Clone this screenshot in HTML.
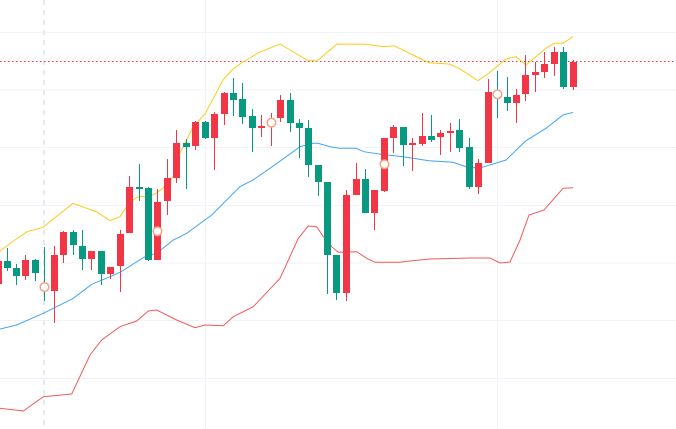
<!DOCTYPE html>
<html><head><meta charset="utf-8"><style>html,body{margin:0;padding:0;background:#fff;}svg{display:block;}</style></head>
<body>
<svg width="676" height="429" viewBox="0 0 676 429" xmlns="http://www.w3.org/2000/svg">
<g stroke="#F0F3FA" stroke-width="1">
<line x1="0" y1="32.5" x2="676" y2="32.5"/><line x1="0" y1="90" x2="676" y2="90"/><line x1="0" y1="147.5" x2="676" y2="147.5"/><line x1="0" y1="205.5" x2="676" y2="205.5"/><line x1="0" y1="263" x2="676" y2="263"/><line x1="0" y1="320.5" x2="676" y2="320.5"/><line x1="0" y1="378.5" x2="676" y2="378.5"/>
<line x1="205.5" y1="0" x2="205.5" y2="429"/><line x1="497.5" y1="0" x2="497.5" y2="429"/>
</g>
<line x1="44" y1="0" x2="44" y2="429" stroke="#E6E8EE" stroke-width="2" stroke-dasharray="5,5"/>
<line x1="0" y1="61.5" x2="676" y2="61.5" stroke="#F23645" stroke-width="1" stroke-dasharray="1.5,2.5"/>
<polyline fill="none" stroke="#FCCB1A" stroke-width="1" points="0,251 15,240 27,231.7 43,227.3 73,203.3 97,212 110,220.7 120,216.7 129,203 139,196 148,197.3 157,192.7 167,185 176,173 180,153 193,127 205,114 223,80 233,69 243,62 260,52 280,44 307,60 317,61 337,44 366,44.3 384,46.7 394,45.7 413,55 429,62.7 449,64 459,68.3 478,80.7 489,73 506,59 516,56.7 526,65 546,48.3 554,43.3 563,43.3 573,36.7"/>
<polyline fill="none" stroke="#42A5F5" stroke-width="1" points="0,329 16.7,325 43.3,313.3 53.3,308.3 73.3,298.3 91.7,284.3 110,276.7 120,272.3 145,256.7 156.7,253.3 173.3,240 186.7,233.3 211.7,215 240,186.7 253,180 270,168.3 300,146.7 313,143.3 318,143.3 330,146.7 340,148.3 356,148.3 364,151.7 379,154 403,156.7 429,160.7 453,162.3 466,166.7 479,168.3 506,160 526,140.7 546,128.3 563,115 573,112.3"/>
<polyline fill="none" stroke="#F25A5A" stroke-width="1" points="0,408.3 23.3,411 43.3,396.7 71.7,394 90,355 101.7,340 120,326.7 136.7,321 148.3,311 156.7,310 176.7,320 195,327.7 205,325 223.3,325.7 233.3,316.7 253.3,306.7 280,278.3 298.3,238.3 308.3,226 316.7,226.7 323.3,236.7 331.7,246.7 338.3,252.3 356.7,251.7 366.7,258.3 375,262.3 400,262.3 410,261 430,259 470,258 490,258 500,263 510,262 520,240 529,215 544,210 563,188.3 573,187.7"/>
<g shape-rendering="crispEdges">
<g fill="#F23645">
<rect x="-2" y="258" width="1" height="28"/><rect x="-5" y="261" width="7" height="23"/>
<rect x="25" y="255" width="1" height="25"/><rect x="22" y="260" width="7" height="16"/>
<rect x="54" y="246" width="1" height="77"/><rect x="51" y="255" width="7" height="36"/>
<rect x="63" y="231" width="1" height="32"/><rect x="60" y="232" width="7" height="23"/>
<rect x="91" y="251" width="1" height="19"/><rect x="88" y="251" width="7" height="8"/>
<rect x="110" y="267" width="1" height="12"/><rect x="107" y="267" width="7" height="7"/>
<rect x="120" y="230" width="1" height="62"/><rect x="117" y="234" width="7" height="32"/>
<rect x="129" y="176" width="1" height="57"/><rect x="126" y="187" width="7" height="46"/>
<rect x="157" y="189" width="1" height="71"/><rect x="154" y="202" width="7" height="58"/>
<rect x="167" y="159" width="1" height="56"/><rect x="164" y="178" width="7" height="23"/>
<rect x="176" y="130" width="1" height="53"/><rect x="173" y="143" width="7" height="35"/>
<rect x="195" y="121" width="1" height="29"/><rect x="192" y="122" width="7" height="24"/>
<rect x="214" y="112" width="1" height="58"/><rect x="211" y="114" width="7" height="24"/>
<rect x="224" y="92" width="1" height="33"/><rect x="221" y="93" width="7" height="21"/>
<rect x="261" y="115" width="1" height="22"/><rect x="258" y="126" width="7" height="2"/>
<rect x="271" y="113" width="1" height="33"/><rect x="268" y="121" width="7" height="2"/>
<rect x="280" y="95" width="1" height="27"/><rect x="277" y="100" width="7" height="18"/>
<rect x="346" y="190" width="1" height="111"/><rect x="343" y="195" width="7" height="98"/>
<rect x="356" y="163" width="1" height="32"/><rect x="353" y="179" width="7" height="16"/>
<rect x="374" y="190" width="1" height="40"/><rect x="371" y="190" width="7" height="23"/>
<rect x="384" y="138" width="1" height="54"/><rect x="381" y="138" width="7" height="53"/>
<rect x="393" y="125" width="1" height="28"/><rect x="390" y="127" width="7" height="11"/>
<rect x="412" y="138" width="1" height="33"/><rect x="409" y="143" width="7" height="2"/>
<rect x="422" y="113" width="1" height="33"/><rect x="419" y="136" width="7" height="8"/>
<rect x="440" y="130" width="1" height="25"/><rect x="437" y="133" width="7" height="4"/>
<rect x="450" y="123" width="1" height="29"/><rect x="447" y="131" width="7" height="2"/>
<rect x="478" y="159" width="1" height="35"/><rect x="475" y="163" width="7" height="24"/>
<rect x="488" y="79" width="1" height="84"/><rect x="485" y="92" width="7" height="71"/>
<rect x="516" y="89" width="1" height="34"/><rect x="513" y="95" width="7" height="8"/>
<rect x="525" y="55" width="1" height="46"/><rect x="522" y="75" width="7" height="19"/>
<rect x="535" y="62" width="1" height="30"/><rect x="532" y="72" width="7" height="3"/>
<rect x="544" y="52" width="1" height="26"/><rect x="541" y="64" width="7" height="8"/>
<rect x="554" y="47" width="1" height="29"/><rect x="551" y="52" width="7" height="12"/>
<rect x="573" y="60" width="1" height="30"/><rect x="570" y="62" width="7" height="25"/>
</g>
<g fill="#089981">
<rect x="7" y="248" width="1" height="23"/><rect x="4" y="261" width="7" height="7"/>
<rect x="16" y="264" width="1" height="21"/><rect x="13" y="268" width="7" height="8"/>
<rect x="35" y="259" width="1" height="22"/><rect x="32" y="260" width="7" height="13"/>
<rect x="44" y="247" width="1" height="54"/><rect x="41" y="286" width="7" height="2"/>
<rect x="73" y="230" width="1" height="25"/><rect x="70" y="232" width="7" height="13"/>
<rect x="82" y="230" width="1" height="40"/><rect x="79" y="246" width="7" height="13"/>
<rect x="101" y="251" width="1" height="34"/><rect x="98" y="251" width="7" height="23"/>
<rect x="139" y="164" width="1" height="37"/><rect x="136" y="187" width="7" height="2"/>
<rect x="148" y="187" width="1" height="74"/><rect x="145" y="188" width="7" height="72"/>
<rect x="186" y="139" width="1" height="50"/><rect x="183" y="143" width="7" height="4"/>
<rect x="205" y="121" width="1" height="18"/><rect x="202" y="122" width="7" height="16"/>
<rect x="233" y="78" width="1" height="38"/><rect x="230" y="93" width="7" height="7"/>
<rect x="242" y="83" width="1" height="41"/><rect x="239" y="99" width="7" height="18"/>
<rect x="252" y="109" width="1" height="43"/><rect x="249" y="116" width="7" height="12"/>
<rect x="290" y="93" width="1" height="39"/><rect x="287" y="100" width="7" height="23"/>
<rect x="299" y="119" width="1" height="39"/><rect x="296" y="123" width="7" height="5"/>
<rect x="308" y="120" width="1" height="57"/><rect x="305" y="128" width="7" height="37"/>
<rect x="318" y="165" width="1" height="31"/><rect x="315" y="165" width="7" height="17"/>
<rect x="327" y="182" width="1" height="112"/><rect x="324" y="182" width="7" height="73"/>
<rect x="336" y="255" width="1" height="45"/><rect x="333" y="255" width="7" height="38"/>
<rect x="365" y="169" width="1" height="44"/><rect x="362" y="179" width="7" height="34"/>
<rect x="403" y="127" width="1" height="39"/><rect x="400" y="127" width="7" height="18"/>
<rect x="431" y="115" width="1" height="27"/><rect x="428" y="136" width="7" height="4"/>
<rect x="459" y="119" width="1" height="33"/><rect x="456" y="130" width="7" height="18"/>
<rect x="469" y="138" width="1" height="51"/><rect x="466" y="147" width="7" height="40"/>
<rect x="497" y="71" width="1" height="47"/><rect x="494" y="93" width="7" height="2"/>
<rect x="507" y="77" width="1" height="34"/><rect x="504" y="97" width="7" height="6"/>
<rect x="563" y="47" width="1" height="42"/><rect x="560" y="52" width="7" height="35"/>
</g>
</g>
<g fill="#fff" stroke="#F7A184" stroke-width="1.5">
<circle cx="44.5" cy="287" r="4.3"/><circle cx="157.5" cy="231.3" r="4.3"/><circle cx="271.5" cy="122.7" r="4.3"/><circle cx="384.5" cy="164.3" r="4.3"/><circle cx="497.5" cy="94.3" r="4.3"/>
</g>
</svg>
</body></html>
